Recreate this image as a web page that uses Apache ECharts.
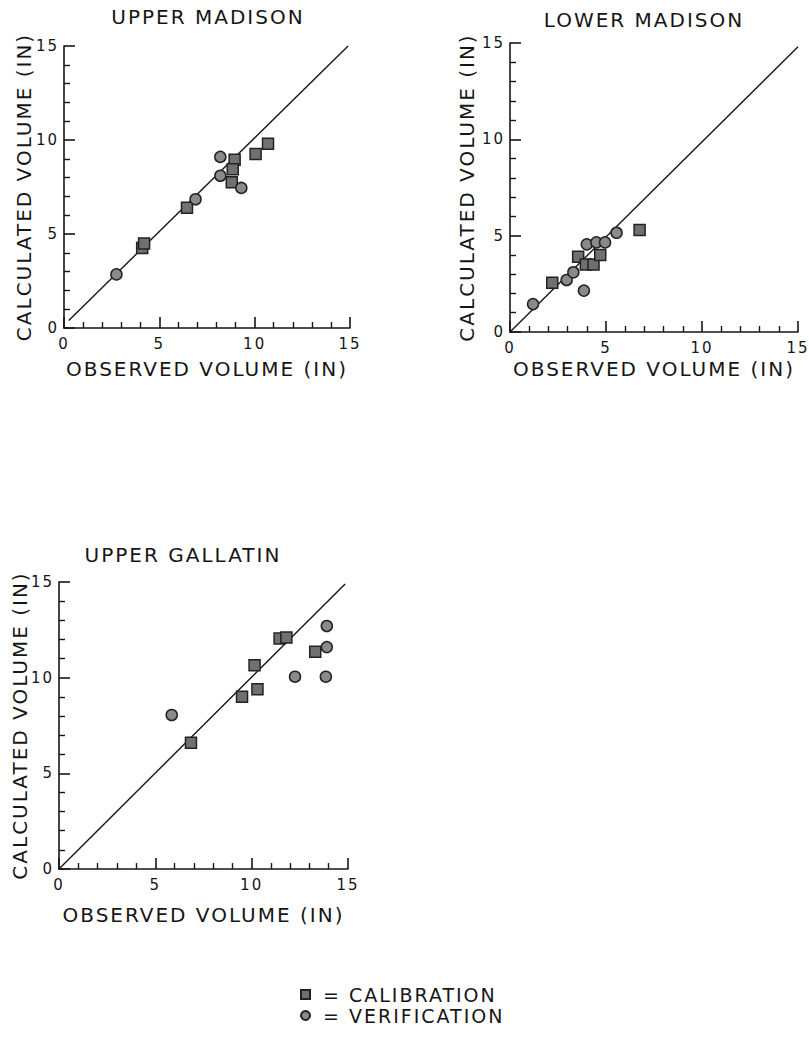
<!DOCTYPE html>
<html>
<head>
<meta charset="utf-8">
<script src="https://cdn.jsdelivr.net/npm/echarts@6/dist/echarts.min.js"></script>
<style>
  html, body { margin: 0; padding: 0; background: #fff; }
  #chart { width: 809px; height: 1042px; }
  #chart text { letter-spacing: 2px; }
</style>
</head>
<body>
<div id="chart"></div>
<script>
// panel titles
const panelTitles = ['UPPER MADISON', 'LOWER MADISON', 'UPPER GALLATIN']

// [observed, calculated] in inches
const upperMadisonCalibration = [[4.1, 4.25], [4.2, 4.5], [6.45, 6.4], [8.95, 8.95], [8.85, 8.45], [8.8, 7.75], [10.05, 9.25], [10.7, 9.8]]
const upperMadisonVerification = [[2.75, 2.85], [6.9, 6.85], [8.2, 8.1], [8.2, 9.1], [9.3, 7.45]]

const lowerMadisonCalibration = [[2.2, 2.55], [3.55, 3.9], [3.95, 3.5], [4.35, 3.5], [4.7, 4.0], [6.75, 5.3]]
const lowerMadisonVerification = [[1.2, 1.45], [2.95, 2.7], [3.3, 3.1], [3.85, 2.15], [4.0, 4.55], [4.5, 4.65], [4.95, 4.65], [5.55, 5.15]]

const upperGallatinCalibration = [[6.85, 6.6], [9.5, 9.0], [10.15, 10.65], [10.3, 9.4], [11.45, 12.05], [11.8, 12.1], [13.3, 11.35]]
const upperGallatinVerification = [[5.85, 8.05], [12.25, 10.05], [13.9, 12.7], [13.9, 11.6], [13.85, 10.05]]

// 1:1 lines as drawn
const upperMadisonLine = [[0.25, 0.4], [14.9, 15]]
const lowerMadisonLine = [[0, 0], [15, 14.8]]
const upperGallatinLine = [[0, 0], [14.85, 14.9]]

const xTicks = [0, 5, 10, 15]
const yTicks = [0, 5, 10, 15]

const calibration = [upperMadisonCalibration, lowerMadisonCalibration, upperGallatinCalibration]
const verification = [upperMadisonVerification, lowerMadisonVerification, upperGallatinVerification]
const lines = [upperMadisonLine, lowerMadisonLine, upperGallatinLine]

const FONT = 'DejaVu Sans'
const INK = '#161616'

var grids = [
  {left: 64, top: 46, width: 286, height: 282},
  {left: 510, top: 43, width: 288, height: 289},
  {left: 59, top: 582, width: 289, height: 287}
]
var xNameGap = [31, 27, 36]
var yNameGap = [30, 33, 29]
var titlePos = [[208, 7], [644, 10], [183, 545]]

function axisBase(i, ticks) {
  return {
    gridIndex: i,
    type: 'value',
    min: ticks[0],
    max: ticks[ticks.length - 1],
    interval: ticks[1] - ticks[0],
    nameLocation: 'middle',
    nameMoveOverlap: false,
    nameTextStyle: {fontFamily: FONT, fontSize: 20, color: INK},
    axisLine: {lineStyle: {color: INK, width: 1.6}},
    axisTick: {inside: true, length: 11, lineStyle: {color: INK, width: 1.6}},
    minorTick: {show: true, splitNumber: 5, length: 6, lineStyle: {color: INK, width: 1.4}},
    splitLine: {show: false},
    axisLabel: {fontFamily: FONT, fontSize: 15, color: INK}
  }
}

var xAxes = [], yAxes = [], series = [], titles = []
for (var i = 0; i < 3; i++) {
  var xa = axisBase(i, xTicks)
  xa.name = 'OBSERVED VOLUME (IN)'
  xa.nameGap = xNameGap[i]
  xa.axisLabel.margin = 8
  xAxes.push(xa)

  var ya = axisBase(i, yTicks)
  ya.name = 'CALCULATED VOLUME (IN)'
  ya.nameGap = yNameGap[i]
  ya.axisLabel.margin = 5
  yAxes.push(ya)

  titles.push({
    text: panelTitles[i],
    left: titlePos[i][0],
    top: titlePos[i][1],
    textAlign: 'center',
    padding: 0,
    textStyle: {fontFamily: FONT, fontSize: 20, fontWeight: 'normal', color: INK}
  })

  series.push({
    name: '1:1',
    type: 'line',
    xAxisIndex: i,
    yAxisIndex: i,
    data: lines[i],
    symbol: 'none',
    silent: true,
    lineStyle: {color: INK, width: 1.4},
    z: 1
  })
  series.push({
    name: 'CALIBRATION',
    type: 'scatter',
    xAxisIndex: i,
    yAxisIndex: i,
    data: calibration[i],
    symbol: 'rect',
    symbolSize: 11,
    itemStyle: {color: '#707070', borderColor: '#222', borderWidth: 1.5, opacity: 1},
    z: 3
  })
  series.push({
    name: 'VERIFICATION',
    type: 'scatter',
    xAxisIndex: i,
    yAxisIndex: i,
    data: verification[i],
    symbol: 'circle',
    symbolSize: 11,
    itemStyle: {color: '#8a8a8a', borderColor: '#222', borderWidth: 1.5, opacity: 1},
    z: 3
  })
}

var chart = echarts.init(document.getElementById('chart'), null, {renderer: 'svg'})
chart.setOption({
  animation: false,
  backgroundColor: '#fff',
  title: titles,
  grid: grids.map(function (g) { return Object.assign({containLabel: false, outerBoundsMode: 'none'}, g) }),
  xAxis: xAxes,
  yAxis: yAxes,
  legend: {
    data: ['CALIBRATION', 'VERIFICATION'],
    orient: 'vertical',
    left: 300,
    top: 985,
    padding: 0,
    itemGap: 2,
    itemWidth: 9,
    itemHeight: 9,
    selectedMode: false,
    formatter: function (name) { return '{t|= ' + name + '}' },
    textStyle: {
      fontFamily: FONT,
      fontSize: 19,
      color: INK,
      rich: {t: {fontFamily: FONT, fontSize: 19, color: INK, lineHeight: 20, padding: [0, 0, 0, 8]}}
    }
  },
  tooltip: {show: false},
  series: series
})
</script>
</body>
</html>
